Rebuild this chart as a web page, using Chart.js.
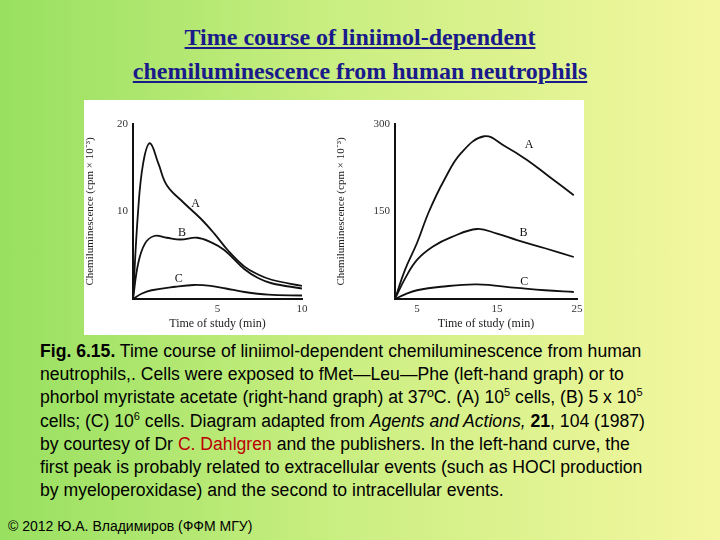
<!DOCTYPE html><html><head><meta charset="utf-8">
<script src="https://cdn.jsdelivr.net/npm/chart.js@4"></script>
<style>
body{margin:0;width:720px;height:540px;overflow:hidden;background:linear-gradient(90deg,#98e060 0%,#c8ee80 45%,#f4f7a0 100%);position:relative;font-family:"Liberation Sans",Arial,sans-serif}
#title{position:absolute;top:20px;left:0;width:720px;text-align:center;font:bold 24px "Liberation Serif",serif;color:#1a1a8a;text-decoration:underline;line-height:34px}
#box{position:absolute;left:84px;top:100px;width:500px;height:235px;background:#fff}
canvas{position:absolute}
#cap{position:absolute;left:40px;top:340px;width:680px;font-size:17.6px;line-height:23.2px;color:#000;white-space:nowrap}
#foot{position:absolute;left:8px;top:518px;font-size:14px}
sup{font-size:11px;line-height:0}
</style></head><body>
<div id="title">Time course of liniimol-dependent<br>chemiluminescence from human neutrophils</div>
<div id="box"></div>
<div style="position:absolute;left:84px;top:100px;width:246px;height:235px"><canvas id="c1"></canvas></div>
<div style="position:absolute;left:335px;top:100px;width:249px;height:235px"><canvas id="c2"></canvas></div>
<div id="cap"><b>Fig. 6.15.</b> Time course of liniimol-dependent chemiluminescence from human<br>neutrophils,. Cells were exposed to fMet—Leu—Phe (left-hand graph) or to<br>phorbol myristate acetate (right-hand graph) at 37ºC. (A) 10<sup>5</sup> cells, (B) 5 x 10<sup>5</sup><br>cells; (C) 10<sup>6</sup> cells. Diagram adapted from <i>Agents and Actions,</i> <b>21</b>, 104 (1987)<br>by courtesy of Dr <span style="color:#b00">C. Dahlgren</span> and the publishers. In the left-hand curve, the<br>first peak is probably related to extracellular events (such as HOCl production<br>by myeloperoxidase) and the second to intracellular events.</div>
<div id="foot">© 2012 Ю.А. Владимиров (ФФМ МГУ)</div>
<script>
const leftA=[[0,0],[0.3,10],[0.6,15.5],[1,17.8],[1.5,15.5],[2,13],[3,11],[4,9.2],[4.8,7.5],[5.6,5.6],[6.6,3.7],[7.4,2.8],[8.2,2.2],[10,1.5]];
const leftB=[[0,0],[0.3,4],[0.7,6.3],[1.25,7.2],[2,7],[2.8,6.8],[3.8,7],[4.6,6.5],[5.4,5.6],[6.6,3.4],[7.4,2.4],[8.2,1.8],[10,1.2]];
const leftC=[[0,0],[0.5,0.6],[1.1,1],[2.5,1.4],[3.6,1.6],[4.6,1.5],[5.5,1.2],[6.6,0.8],[8,0.5],[10,0.4]];
const rightA=[[2.25,0],[3.5,50],[5,96],[6.5,150],[8.4,204],[10.5,250],[13.4,279],[16,262],[18.8,238],[21.5,210],[24.6,178]];
const rightB=[[2.25,0],[3.5,35],[5,67],[7,90],[9.3,106],[12.5,120],[15,112],[17.5,101],[21,87],[24.6,72]];
const rightC=[[2.25,0],[3.5,8],[5,15],[8,21],[12.5,25],[17.5,19],[21,15],[24.6,12]];
const leftLabels=[["A",3.7,10.9],["B",2.9,7.6],["C",2.7,2.3]];
const rightLabels=[["A",19,264],["B",18.3,113],["C",18.4,29]];
const serif='"Liberation Serif",serif';
function ds(d){return {data:d.map(p=>({x:p[0],y:p[1]})),borderColor:'#111',borderWidth:1.8,pointRadius:0,tension:0.4,fill:false};}
const labelPlugin={id:'lbl',afterDatasetsDraw(ch,a,o){const c=ch.ctx;c.save();c.font='12px '+serif;c.fillStyle='#111';c.textAlign='center';c.textBaseline='middle';
 ch.options.plugins.lbl.items.forEach(l=>c.fillText(l[0],ch.scales.x.getPixelForValue(l[1]),ch.scales.y.getPixelForValue(l[2])));c.restore();}};
function make(id,sets,xmin,xmax,xticks,ymax,yticks,ytitle,ywidth,rpad,labels){
 new Chart(document.getElementById(id),{type:'line',data:{datasets:sets.map(ds)},plugins:[labelPlugin],
 options:{responsive:true,maintainAspectRatio:false,animation:false,layout:{padding:{top:24,right:rpad,left:0,bottom:0}},
 plugins:{legend:{display:false},tooltip:{enabled:false},lbl:{items:labels}},
 scales:{x:{type:'linear',min:xmin,max:xmax,afterBuildTicks:s=>{s.ticks=xticks.map(v=>({value:v}))},afterFit:s=>{s.height=36},
  grid:{display:false,drawTicks:true,tickLength:4,color:'#111'},border:{color:'#111',width:2},ticks:{color:'#333',font:{family:serif,size:11},padding:0,maxRotation:0},
  title:{display:true,text:'Time of study (min)',color:'#222',font:{family:serif,size:12},padding:{top:2}}},
 y:{min:0,max:ymax,afterBuildTicks:s=>{s.ticks=yticks.map(v=>({value:v}))},afterFit:s=>{s.width=ywidth},
  grid:{display:false,tickLength:4},border:{color:'#111',width:2},ticks:{color:'#333',font:{family:serif,size:11},padding:1},
  title:{display:true,text:ytitle,color:'#222',font:{family:serif,size:11},padding:0}}}}});
}
make('c1',[leftA,leftB,leftC],0,10,[5,10],20,[10,20],'Chemiluminescence (cpm × 10⁻³)',49,28,leftLabels);
make('c2',[rightA,rightB,rightC],2.25,25,[5,15,25],300,[150,300],'Chemiluminescence (cpm × 10⁻³)',60,7,rightLabels);
</script></body></html>
